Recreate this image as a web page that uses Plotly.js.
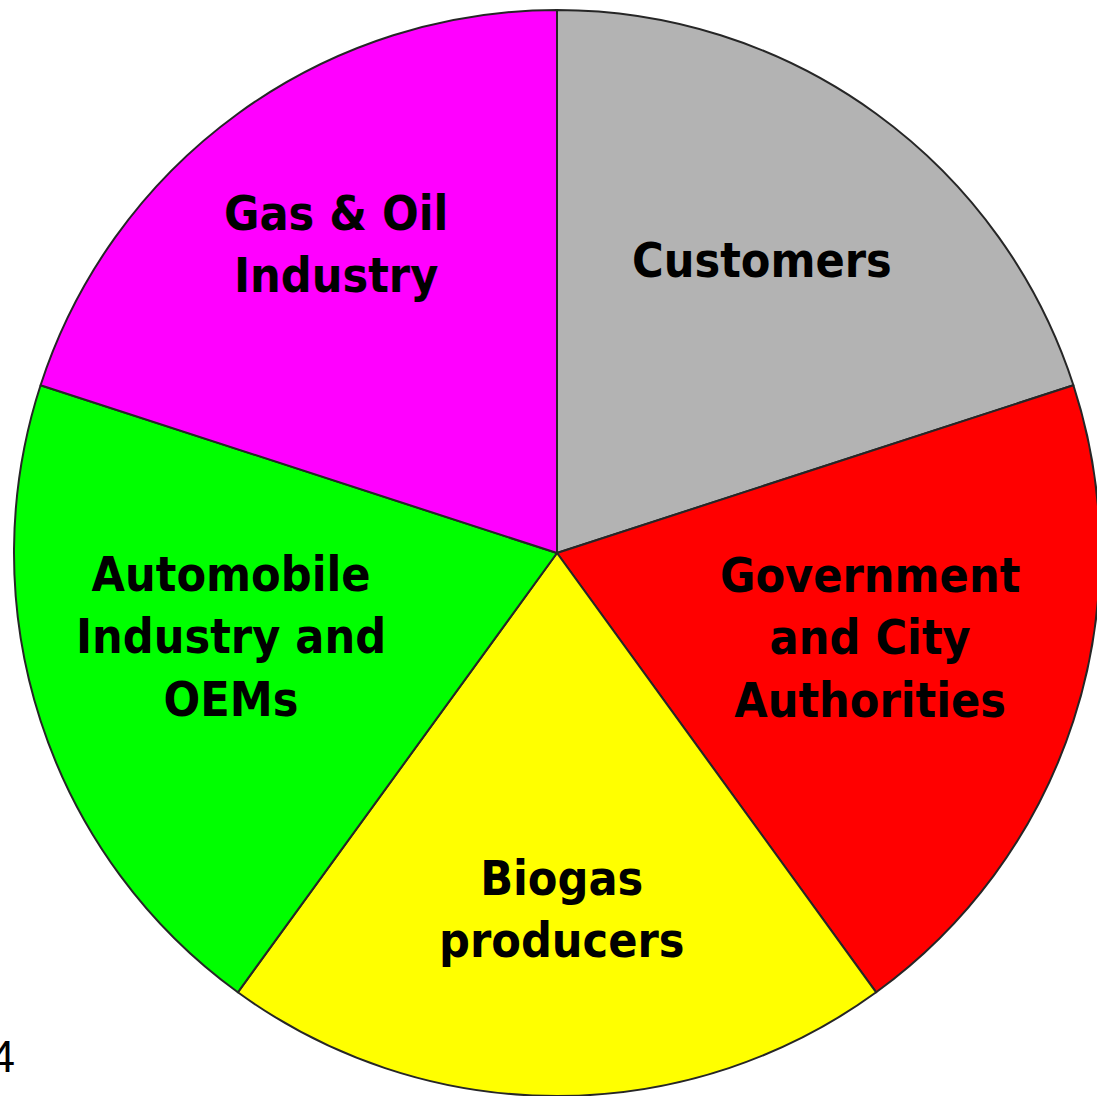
<!DOCTYPE html>
<html>
<head>
<meta charset="utf-8">
<script src="https://cdn.plot.ly/plotly-3.0.1.min.js"></script>
<style>
html, body { margin: 0; padding: 0; overflow: hidden; background: #ffffff; }
#chart { width: 1100px; height: 1096px; }
</style>
</head>
<body>
<div id="chart"></div>
<script>
// Data
const categories = ["Customers", "Government and City Authorities", "Biogas producers", "Automobile Industry and OEMs", "Gas & Oil Industry"];
const labelLines = ["Customers", "Government<br>and City<br>Authorities", "Biogas<br>producers", "Automobile<br>Industry and<br>OEMs", "Gas & Oil<br>Industry"];
const shares = [1, 1, 1, 1, 1];
const sliceColors = ["#b3b3b3", "#ff0000", "#ffff00", "#00ff00", "#ff00ff"];
const pageNumber = "4";

// Layout (pixel-based placement)
const W = 1100, H = 1096;
const labelPos = [[762, 260], [870, 637], [561, 909], [231, 636], [336, 244]];

const fontFam = "'DejaVu Sans Condensed', 'DejaVu Sans', Verdana, sans-serif";

const annotations = labelLines.map((t, i) => ({
  text: "<b>" + t + "</b>",
  x: labelPos[i][0] / W,
  y: 1 - labelPos[i][1] / H,
  xref: "paper", yref: "paper",
  xanchor: "center", yanchor: "middle",
  showarrow: false,
  align: "center",
  font: { family: fontFam, size: 48, color: "#000000" }
}));

annotations.push({
  text: pageNumber,
  x: 17 / W, y: 1 - 1056 / H,
  xref: "paper", yref: "paper",
  xanchor: "right", yanchor: "middle",
  showarrow: false,
  font: { family: "'Liberation Sans', Arial, sans-serif", size: 45, color: "#000000" }
});

const trace = {
  type: "pie",
  labels: categories,
  values: shares,
  sort: false,
  direction: "clockwise",
  rotation: 0,
  marker: { colors: sliceColors, line: { color: "#262626", width: 2 } },
  textinfo: "none",
  hoverinfo: "label",
  domain: { x: [14 / W, 1], y: [0, 1086 / H] },
  showlegend: false
};

const layout = {
  width: W, height: H,
  margin: { l: 0, r: 0, t: 0, b: 0 },
  paper_bgcolor: "#ffffff",
  showlegend: false,
  annotations: annotations
};

Plotly.newPlot("chart", [trace], layout, { displayModeBar: false, staticPlot: true });
</script>
</body>
</html>
